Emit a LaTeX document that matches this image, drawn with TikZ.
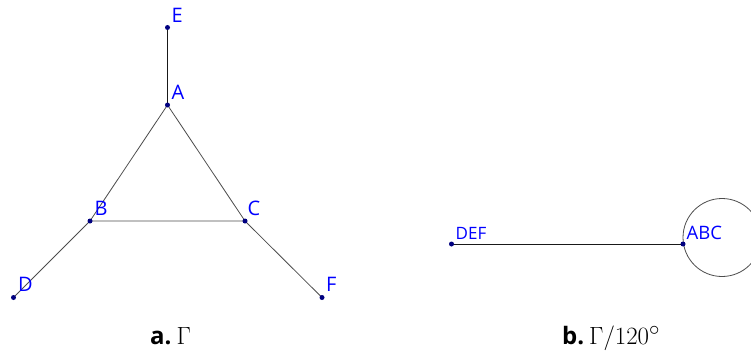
\documentclass[tikz,border=0pt]{standalone}
\usepackage{fontspec}
\newfontfamily\lblfont{Open Sans}
\usepackage{amsmath}
\begin{document}
\begin{tikzpicture}[x=1pt,y=-1pt,
  pt/.style={circle,fill=blue!50!black,inner sep=0pt,minimum size=5pt},
  lbl/.style={anchor=base west,inner sep=0pt,text=blue,font=\lblfont\fontsize{20}{20}\selectfont},
  edge/.style={draw=black!70,line width=0.8pt},
  dark/.style={draw=black!90,line width=0.9pt}]
\useasboundingbox (0,0) rectangle (751,353);
\clip (0,0) rectangle (751,353);
% part a
\coordinate (E) at (167.5,27.5);
\coordinate (A) at (167.5,105);
\coordinate (B) at (90,221);
\coordinate (C) at (245,221);
\coordinate (D) at (13.5,297.5);
\coordinate (F) at (322,297.5);
\draw[dark] (E) -- (A);
\draw[edge] (A) -- (B) -- (C) -- (A);
\draw[edge] (B) -- (D);
\draw[edge] (C) -- (F);
\foreach \p in {E,A,B,C,D,F} \node[pt] (n\p) at (\p) {};
\node[lbl] (lE) at ([shift={(4,-5)}]E) {E};
\node[lbl] (lA) at ([shift={(4,-6)}]A) {A};
\node[lbl] (lB) at ([shift={(4.5,-6)}]B) {B};
\node[lbl] (lC) at ([shift={(2.5,-6)}]C) {C};
\node[lbl] (lD) at ([shift={(4.5,-6.5)}]D) {D};
\node[lbl] (lF) at ([shift={(4,-6)}]F) {F};
% part b
\coordinate (DEF) at (451.5,244);
\coordinate (ABC) at (683,244);
\coordinate (O) at (722,237.5);
\draw[dark] (DEF) -- (ABC);
\draw[edge] (O) circle[radius=39];
\node[pt] (nDEF) at (DEF) {};
\node[pt] (nABC) at (ABC) {};
\node[lbl,font=\lblfont\fontsize{17}{17}\selectfont] (lDEF) at ([shift={(4,-5)}]DEF) {DEF};
\node[lbl,font=\lblfont\fontsize{18.5}{18.5}\selectfont] (lABC) at ([shift={(3.5,-5)}]ABC) {ABC};
% captions
\node[anchor=base west,inner sep=0pt,font=\fontsize{28}{28}\selectfont] (capa) at (150,344.5) {{\lblfont\bfseries\fontsize{24}{24}\selectfont a.}\kern5pt$\Gamma$};
\node[anchor=base west,inner sep=0pt,font=\fontsize{28}{28}\selectfont] (capb) at (562,344.5) {{\lblfont\bfseries\fontsize{24}{24}\selectfont b.}\kern5pt$\Gamma/120^\circ$};
\end{tikzpicture}
\end{document}
